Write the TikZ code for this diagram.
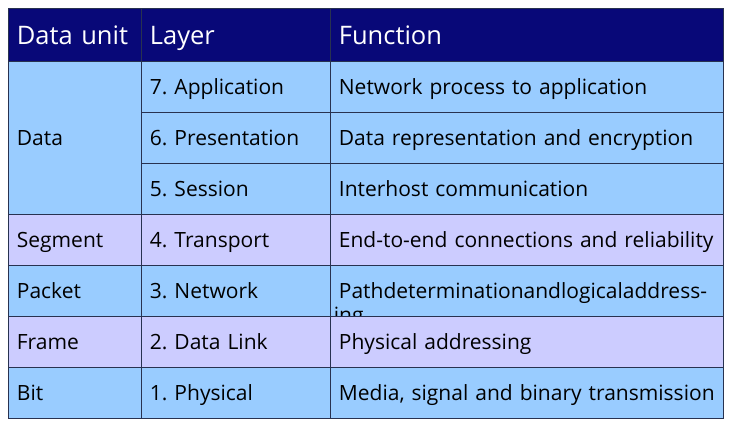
\documentclass[tikz,border=0pt]{standalone}
\usepackage{fontspec}
\setmainfont{Open Sans}
\frenchspacing
\usetikzlibrary{positioning}
\definecolor{headblue}{RGB}{8,8,120}
\definecolor{cellblue}{RGB}{153,204,255}
\definecolor{celllilac}{RGB}{204,204,255}
\definecolor{gridline}{RGB}{40,50,80}
\tikzset{
    cell/.style={draw=gridline,line width=0.8pt,anchor=north west,inner sep=0pt,
        text depth=0pt,align=left},
    head/.style={cell,fill=headblue,text=white,font=\fontsize{25.5}{28}\selectfont,minimum height=53pt},
    body/.style={cell,font=\fontsize{21}{24}\selectfont,minimum height=51pt},
    cola/.style={text width=126pt,minimum width=133pt},
    colb/.style={text width=182pt,minimum width=189pt},
    colc/.style={text width=386pt,minimum width=393pt},
}
\begin{document}
\begin{tikzpicture}[x=1pt,y=-1pt]
\useasboundingbox (0,0) rectangle (732,429);
% header
\node[head,cola] (hu) at (8,8)   {\hspace*{5pt}Data unit};
\node[head,colb] (hl) at (141,8) {\hspace*{5pt}Layer};
\node[head,colc] (hf) at (330,8) {\hspace*{5pt}Function};
% data unit column
\node[body,cola,fill=cellblue,minimum height=153pt]  (ud) at (8,61)  {\hspace*{5pt}Data};
\node[body,cola,fill=celllilac] (us) at (8,214) {\hspace*{5pt}Segment};
\node[body,cola,fill=cellblue]  (up) at (8,265) {\hspace*{5pt}Packet};
\node[body,cola,fill=celllilac] (uf) at (8,316) {\hspace*{5pt}Frame};
\node[body,cola,fill=cellblue]  (ub) at (8,367) {\hspace*{5pt}Bit};
% layers and functions
\foreach \y/\c/\lay/\fun [count=\i] in {
    61/cellblue/7. Application/Network process to application,
    112/cellblue/6. Presentation/Data representation and encryption,
    163/cellblue/5. Session/Interhost communication,
    214/celllilac/4. Transport/End-to-end connections and reliability,
    265/cellblue/3. Network/Pathdeterminationandlogicaladdressing,
    316/celllilac/2. Data Link/Physical addressing,
    367/cellblue/1. Physical/{Media, signal and binary transmission}}{
    \node[body,colb,fill=\c] (l\i) at (141,\y) {\hspace*{5pt}\lay};
    \node[body,colc,fill=\c] (f\i) at (330,\y) {\hspace*{5pt}\fun};
}
\end{tikzpicture}
\end{document}
